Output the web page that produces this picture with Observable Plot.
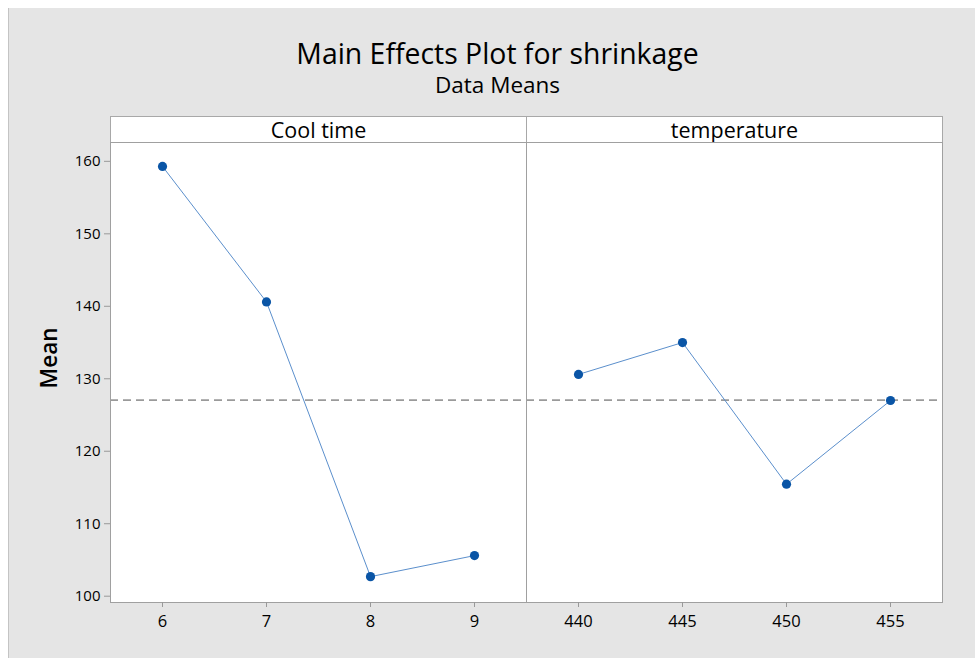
<!DOCTYPE html>
<html>
<head>
<meta charset="utf-8">
<script src="https://cdn.jsdelivr.net/npm/d3@7/dist/d3.min.js"></script>
<script src="https://cdn.jsdelivr.net/npm/@observablehq/plot@0.6/dist/plot.umd.min.js"></script>
<style>
  html, body { margin: 0; padding: 0; background: #ffffff; }
  body { position: relative; width: 975px; height: 658px; overflow: hidden; font-family: "Open Sans", "Noto Sans", sans-serif; }
  #bg { position: absolute; left: 8px; top: 8px; width: 967px; height: 650px; background: #e5e5e5; border-left: 1px solid #c4c4c4; box-sizing: border-box; }
  .abs { position: absolute; }
  .title { left: 197.5px; width: 600px; text-align: center; top: 33px; font-size: 28.4px; line-height: 40px; color: #000; }
  .subtitle { left: 197.5px; width: 600px; text-align: center; top: 70px; font-size: 22.5px; line-height: 30px; color: #000; }
  .strip { top: 116px; height: 27px; background: #fff; border: 1px solid #a8a8a8; box-sizing: border-box; text-align: center; font-size: 21.5px; line-height: 25px; color: #000; }
  .ylab { left: 48px; top: 358px; transform: translate(-50%, -50%) rotate(-90deg); font-size: 22.5px; font-weight: 600; color: #000; white-space: nowrap; }
  #err { position: absolute; left: 120px; top: 300px; color: red; font-size: 14px; }
</style>
</head>
<body>
<div id="bg"></div>
<div class="abs title">Main Effects Plot for shrinkage</div>
<div class="abs subtitle">Data Means</div>
<div class="abs strip" style="left:110px;width:417px;">Cool time</div>
<div class="abs strip" style="left:526px;width:417px;">temperature</div>
<div class="abs ylab">Mean</div>
<div id="left" class="abs" style="left:0px;top:100px;"></div>
<div id="right" class="abs" style="left:526px;top:100px;"></div>
<div id="err"></div>
<script>
const coolTime = [6, 7, 8, 9];
const coolMean = [159.3, 140.6, 102.7, 105.6];
const temperature = [440, 445, 450, 455];
const tempMean = [130.6, 135.0, 115.45, 127.0];
const grandMean = 127.05;
const yTicks = [100, 110, 120, 130, 140, 150, 160];

const yDomain = [99.13, 162.6];
const lineColor = "#5b8fcc";
const dotColor = "#0a55a6";
const gridGrey = "#a0a0a0";

function panel(xs, ys, xDomain, opts) {
  const data = xs.map((x, i) => ({x, y: ys[i]}));
  const marks = [
    Plot.frame({fill: "white", stroke: "none"}),
    Plot.ruleY([grandMean], {stroke: "#9a9a9a", strokeWidth: 1.6, strokeDasharray: "8,5"}),
    Plot.line(data, {x: "x", y: "y", stroke: lineColor, strokeWidth: 1}),
    Plot.dot(data, {x: "x", y: "y", r: 4.6, fill: dotColor, stroke: "none"}),
    Plot.frame({stroke: gridGrey, strokeWidth: 1}),
    Plot.axisX({ticks: xs, tickSize: 5, tickPadding: 8, label: null, stroke: "#999", fill: "#000", fontSize: 16.5, tickFormat: d => String(d)})
  ];
  if (opts.yAxis) {
    marks.push(Plot.axisY({ticks: yTicks, tickSize: 6, tickPadding: 4, label: null, stroke: "#999", fill: "#000"}));
  }
  return Plot.plot({
    width: opts.width,
    height: 558,
    marginLeft: opts.marginLeft,
    marginRight: opts.marginRight,
    marginTop: 42,
    marginBottom: 56,
    x: {domain: xDomain},
    y: opts.yAxis ? {domain: yDomain} : {domain: yDomain, axis: null},
    style: {background: "transparent", fontFamily: "Open Sans, Noto Sans, sans-serif", fontSize: "15px", color: "#000", overflow: "visible"},
    marks
  });
}

try {
  document.getElementById("left").appendChild(
    panel(coolTime, coolMean, [5.5, 9.5], {width: 527, marginLeft: 110, marginRight: 1, yAxis: true})
  );
  document.getElementById("right").appendChild(
    panel(temperature, tempMean, [437.5, 457.5], {width: 449, marginLeft: 0, marginRight: 33, yAxis: false})
  );
} catch (e) {
  document.getElementById("err").textContent = String(e);
}
</script>
</body>
</html>
